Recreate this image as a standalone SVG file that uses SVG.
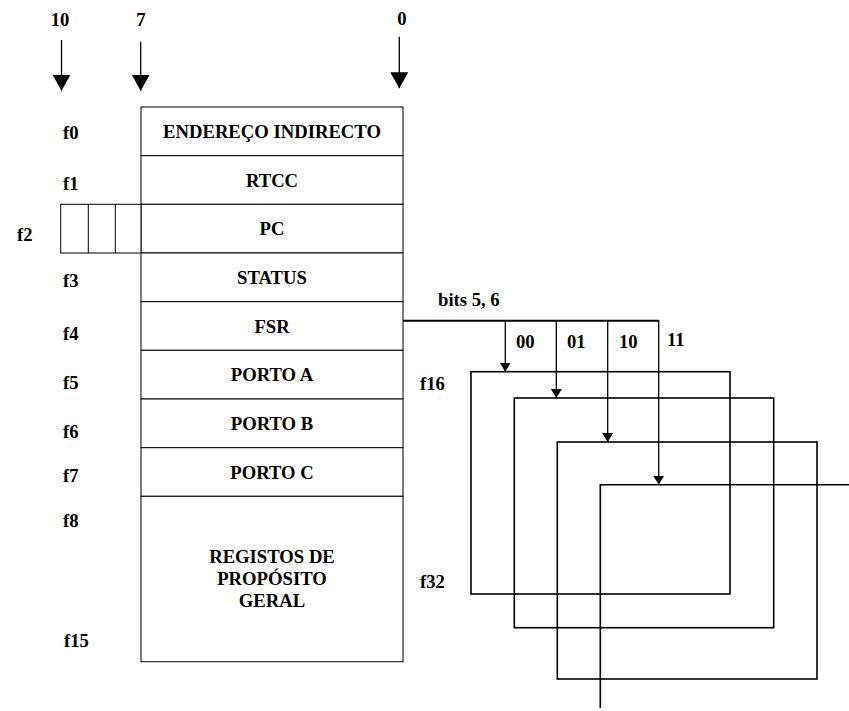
<svg xmlns="http://www.w3.org/2000/svg" width="849" height="711" viewBox="0 0 849 711">
<style>
  text { font-family: "Liberation Serif", "Times New Roman", serif; font-weight: bold; font-size: 18.67px; fill: #000; }
  .c { text-anchor: middle; }
  .cell { fill: #fff; stroke: #000; stroke-width: 1; }
  .bank { fill: none; stroke: #000; stroke-width: 1.6; }
  .wire { fill: none; stroke: #000; stroke-width: 1.3; }
  .wire2 { fill: none; stroke: #000; stroke-width: 2; }
</style>
<defs>
  <marker id="bigArrow" markerUnits="userSpaceOnUse" viewBox="0 0 16 18" refX="16" refY="9" markerWidth="16" markerHeight="18" orient="auto">
    <path d="M0,0 L16,9 L0,18 z" fill="#000"/>
  </marker>
  <marker id="smallArrow" markerUnits="userSpaceOnUse" viewBox="0 0 9 11" refX="9" refY="5.5" markerWidth="9" markerHeight="11" orient="auto">
    <path d="M0,0 L9,5.5 L0,11 z" fill="#000"/>
  </marker>
</defs>

<g id="bit-labels">
  <text class="c" x="60" y="26">10</text>
  <text class="c" x="141" y="26">7</text>
  <text class="c" x="402" y="25">0</text>
</g>

<g id="address-labels">
  <text x="63" y="139">f0</text>
  <text x="63" y="190">f1</text>
  <text x="17" y="241">f2</text>
  <text x="63" y="287">f3</text>
  <text x="63" y="340">f4</text>
  <text x="63" y="389">f5</text>
  <text x="63" y="438">f6</text>
  <text x="63" y="482">f7</text>
  <text x="63" y="527">f8</text>
  <text x="64" y="647">f15</text>
  <text x="420" y="390">f16</text>
  <text x="420" y="588">f32</text>
</g>

<g id="reg-indirecto">
  <rect class="cell" x="141" y="107" width="262" height="48.7"/>
  <text class="c" x="272" y="137.5">ENDEREÇO INDIRECTO</text>
</g>
<g id="reg-rtcc">
  <rect class="cell" x="141" y="155.7" width="262" height="48.6"/>
  <text class="c" x="272" y="186.5">RTCC</text>
</g>
<g id="reg-pc">
  <rect class="cell" x="141" y="204.3" width="262" height="48.7"/>
  <text class="c" x="272" y="235">PC</text>
</g>
<g id="pc-extension">
  <rect class="cell" x="60.7" y="204.3" width="80.3" height="48.7"/>
  <line x1="88.3" y1="204.3" x2="88.3" y2="253" stroke="#000" stroke-width="1"/>
  <line x1="115.3" y1="204.3" x2="115.3" y2="253" stroke="#000" stroke-width="1"/>
</g>
<g id="reg-status">
  <rect class="cell" x="141" y="253" width="262" height="48.7"/>
  <text class="c" x="272" y="284">STATUS</text>
</g>
<g id="reg-fsr">
  <rect class="cell" x="141" y="301.7" width="262" height="48.6"/>
  <text class="c" x="272" y="332.5">FSR</text>
</g>
<g id="reg-portoa">
  <rect class="cell" x="141" y="350.3" width="262" height="48.7"/>
  <text class="c" x="272" y="381">PORTO A</text>
</g>
<g id="reg-portob">
  <rect class="cell" x="141" y="399" width="262" height="48.7"/>
  <text class="c" x="272" y="430">PORTO B</text>
</g>
<g id="reg-portoc">
  <rect class="cell" x="141" y="447.7" width="262" height="48.6"/>
  <text class="c" x="272" y="479">PORTO C</text>
</g>
<g id="reg-geral">
  <rect class="cell" x="141" y="496.3" width="262" height="165.4"/>
  <text class="c" x="272" y="562.5">REGISTOS DE</text>
  <text class="c" x="272" y="585">PROPÓSITO</text>
  <text class="c" x="272" y="606.5">GERAL</text>
</g>

<g id="bank-00">
  <rect class="bank" x="471" y="371.7" width="259" height="222.3"/>
</g>
<g id="bank-01">
  <rect class="bank" x="514.3" y="398" width="259.4" height="229.7"/>
</g>
<g id="bank-10">
  <rect class="bank" x="557.3" y="442" width="259.7" height="237"/>
</g>
<g id="bank-11">
  <path class="bank" d="M849,484.7 L600.3,484.7 L600.3,708"/>
</g>

<g id="connectors">
  <line class="wire" x1="61.5" y1="40" x2="61.5" y2="90.7" marker-end="url(#bigArrow)"/>
  <line class="wire" x1="140.7" y1="41.7" x2="140.7" y2="90.7" marker-end="url(#bigArrow)"/>
  <line class="wire" x1="399.3" y1="36.7" x2="399.3" y2="88.3" marker-end="url(#bigArrow)"/>

  <path class="wire2" d="M403,320.7 L658.7,320.7"/>
  <line class="wire" x1="505.3" y1="320.7" x2="505.3" y2="371.7" marker-end="url(#smallArrow)"/>
  <line class="wire" x1="556.3" y1="320.7" x2="556.3" y2="398" marker-end="url(#smallArrow)"/>
  <line class="wire" x1="607.7" y1="320.7" x2="607.7" y2="442" marker-end="url(#smallArrow)"/>
  <line class="wire" x1="658.7" y1="320" x2="658.7" y2="484.7" marker-end="url(#smallArrow)"/>

  <text x="438" y="306">bits 5, 6</text>
  <text x="516" y="348">00</text>
  <text x="567" y="348">01</text>
  <text x="619" y="348">10</text>
  <text x="667" y="346">11</text>
</g>
</svg>
